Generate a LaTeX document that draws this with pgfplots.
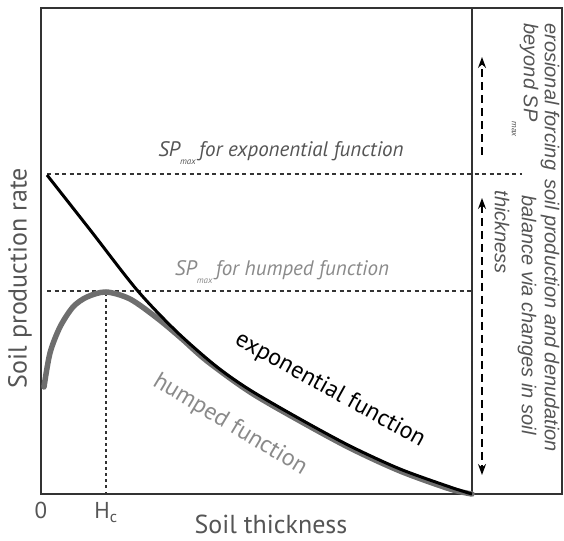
\documentclass[border=0pt]{standalone}
\usepackage{fontspec}
\setmainfont{PT Sans}
\newfontfamily\helv{Liberation Sans}
\usepackage{pgfplots}
\pgfplotsset{compat=1.18}
\usetikzlibrary{arrows.meta}
\definecolor{framec}{HTML}{333333}
\definecolor{hump}{HTML}{6e6e6e}
\definecolor{humptext}{HTML}{8a8a8a}
\definecolor{labtext}{HTML}{555555}

\pgfplotstableread{
x y
6 319
50 263
96 204
136 162
176 127
209 104
259 75
309 48
359 25
409 7
431 0
}\expdata

\pgfplotstableread{
x y
3 107
9 141
19 167
32 187
46 197
65 202
89 195
116 176
140 156
166 133
209 102
259 73
309 46
359 23
409 5
431 0
}\humpdata

\begin{document}
\begin{tikzpicture}
\begin{axis}[
  x=1pt, y=1pt,
  xmin=0, xmax=521, ymin=0, ymax=486,
  scale only axis,
  clip=false,
  axis line style={framec, line width=1.6pt},
  xtick={0,65},
  xticklabels={\textnormal{0},\textnormal{H\textsubscript{c}}},
  ytick=\empty,
  major tick length=0pt,
  xticklabel style={font=\fontsize{23}{23}\selectfont, text=labtext, yshift=-5pt},
]
\path (axis cs:-41,-46) rectangle (axis cs:523,494);

% reference lines
\addplot[framec, line width=1.3pt, dash pattern=on 4pt off 3.5pt] coordinates {(6,320) (481,320)};
\addplot[framec, line width=1.3pt, dash pattern=on 4pt off 3.5pt] coordinates {(6,203) (431,203)};
\addplot[framec, line width=1.5pt, dash pattern=on 2.5pt off 3.5pt] coordinates {(65,0) (65,203)};
\addplot[framec, line width=1.6pt] coordinates {(431,0) (431,486)};

% curves
\addplot[hump, line width=5.5pt, smooth, line cap=round] table[x=x,y=y] {\humpdata};
\addplot[black, line width=3pt, smooth] table[x=x,y=y] {\expdata};

% arrows
\addplot[black, line width=1.3pt, dash pattern=on 8pt off 5pt, -{Stealth[length=11pt,width=8pt]}] coordinates {(441,339) (441,437)};
\addplot[black, line width=1.3pt, dash pattern=on 8pt off 5pt, {Stealth[length=11pt,width=8pt]}-{Stealth[length=11pt,width=8pt]}] coordinates {(441,296) (441,19)};

% labels
\node[font=\fontsize{21}{21}\selectfont\itshape, text=labtext] at (axis cs:240,341) {SP\raisebox{-0.4em}{\fontsize{9}{9}\selectfont max}\,for exponential function};
\node[font=\fontsize{21}{21}\selectfont\itshape, text=humptext] at (axis cs:241,222) {SP\raisebox{-0.4em}{\fontsize{9}{9}\selectfont max}\,for humped function};
\node[font=\fontsize{24}{24}\selectfont, rotate=-29] at (axis cs:289,104) {exponential function};
\node[font=\fontsize{24}{24}\selectfont, rotate=-31, text=humptext] at (axis cs:189,69) {humped function};

\node[font=\fontsize{26}{26}\selectfont, rotate=90, text=labtext] at (axis cs:-21,216) {Soil production rate};
\node[font=\fontsize{26}{26}\selectfont, text=labtext] at (axis cs:230,-30) {Soil thickness};

% right panel
\node[font=\helv\itshape\fontsize{20}{20}\selectfont, text=labtext, rotate=-90, anchor=west] at (axis cs:509,474) {erosional forcing};
\node[font=\helv\itshape\fontsize{20}{20}\selectfont, text=labtext, rotate=-90, anchor=west] at (axis cs:509,318) {soil production and denudation};
\node[font=\helv\itshape\fontsize{20}{20}\selectfont, text=labtext, rotate=-90, anchor=west] at (axis cs:484,474) {beyond SP\raisebox{-0.6em}{\fontsize{8}{8}\selectfont max}};
\node[font=\helv\itshape\fontsize{20}{20}\selectfont, text=labtext, rotate=-90, anchor=west] at (axis cs:486,302) {balance via changes in soil};
\node[font=\helv\itshape\fontsize{20}{20}\selectfont, text=labtext, rotate=-90, anchor=west] at (axis cs:461,307) {thickness};
\end{axis}
\end{tikzpicture}
\end{document}
